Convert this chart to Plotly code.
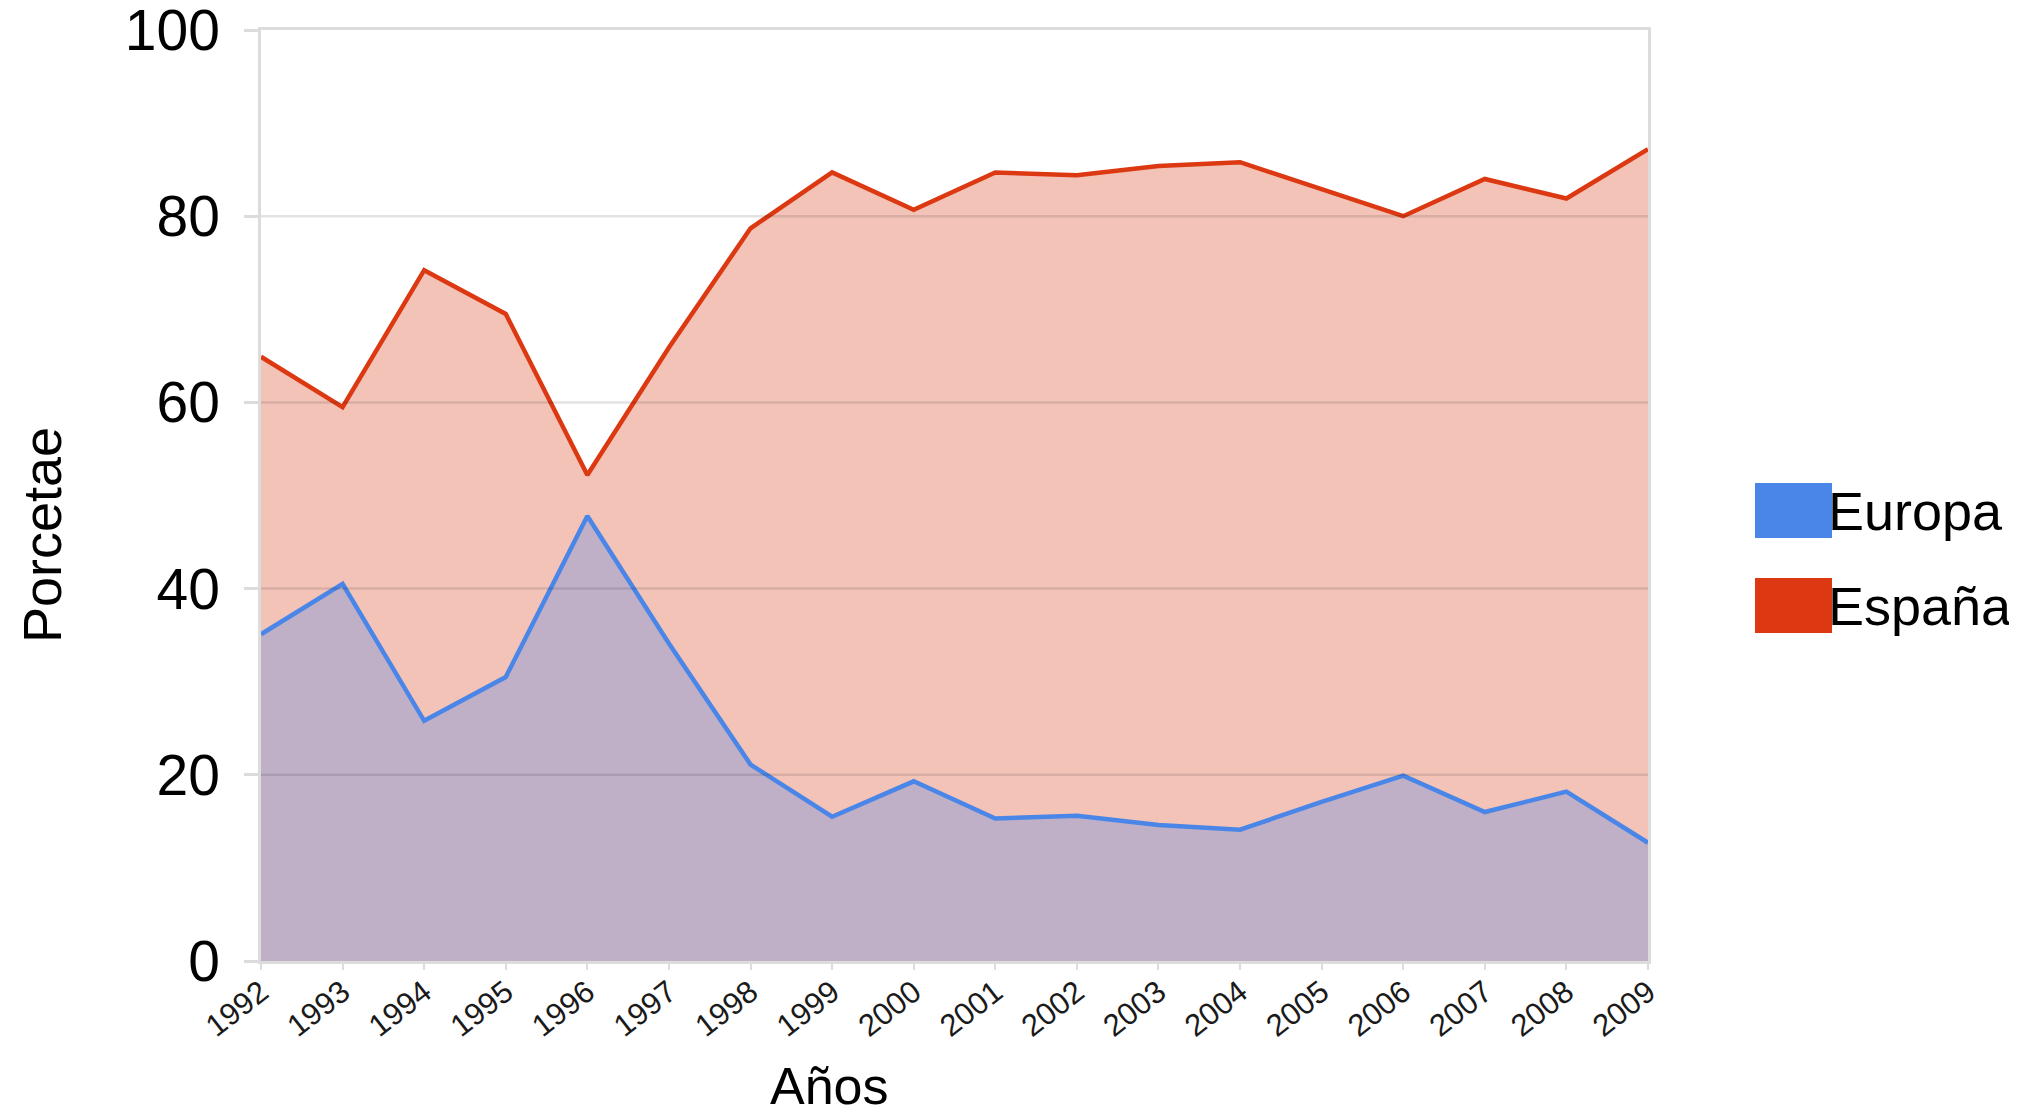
"""Stacked area chart: Europa / España share by year."""
import plotly.graph_objects as go

# ── Data ──────────────────────────────────────────────────────────────
YEARS = list(range(1992, 2010))
YEAR_LABELS = [str(y) for y in YEARS]
EUROPA = [35.1, 40.5, 25.8, 30.5, 47.8, 34.1, 21.1, 15.5, 19.3,
          15.3, 15.6, 14.6, 14.1, 17.1, 19.9, 16.0, 18.2, 12.7]
ESPANA = [29.8, 19.0, 48.4, 39.0, 4.4, 31.8, 57.6, 69.2, 61.4,
          69.4, 68.8, 70.8, 71.7, 65.8, 60.1, 68.0, 63.7, 74.5]
Y_TICKS = [0, 20, 40, 60, 80, 100]

# ── Style ─────────────────────────────────────────────────────────────
COLORS = {
    "europa_line": "#4a86e8",
    "europa_fill": "#bfb0c8",
    "espana_line": "#dc3912",
    "espana_fill": "#f3c3b8",
    "grid": "rgba(0,0,0,0.11)",
    "frame": "#dcdcdc",
}
FONT = "Arial, Liberation Sans, sans-serif"

# page body has an 8px margin: figure is shrunk so the page is 2017x1120
OFF = 8
W, H = 2017 - OFF, 1120 - OFF
# plot area in page pixels
PLOT_L, PLOT_R, PLOT_T, PLOT_B = 261, 1648, 30, 961
M = dict(l=PLOT_L - OFF, r=2017 - PLOT_R, t=PLOT_T - OFF, b=1120 - PLOT_B)
PW, PH = PLOT_R - PLOT_L, PLOT_B - PLOT_T


def px_x(x):
    return (x - PLOT_L) / PW


def px_y(y):
    return (PLOT_B - y) / PH


fig = go.Figure()
fig.add_trace(go.Scatter(
    x=YEARS, y=EUROPA, name="Europa", mode="lines", stackgroup="one",
    line=dict(color=COLORS["europa_line"], width=4.5),
    fillcolor=COLORS["europa_fill"],
))
fig.add_trace(go.Scatter(
    x=YEARS, y=ESPANA, name="España", mode="lines", stackgroup="one",
    line=dict(color=COLORS["espana_line"], width=4.5),
    fillcolor=COLORS["espana_fill"],
))

# gridlines drawn over the fills, as in the original
for v in Y_TICKS[1:-1]:
    fig.add_shape(type="line", xref="paper", x0=0, x1=1, yref="y", y0=v, y1=v,
                  line=dict(color=COLORS["grid"], width=2.5), layer="above")

# legend drawn by hand: big solid swatches
legend_items = [("Europa", COLORS["europa_line"], 483),
                ("España", COLORS["espana_line"], 578)]
for name, color, top in legend_items:
    fig.add_shape(type="rect", xref="paper", yref="paper",
                  x0=px_x(1755), x1=px_x(1832), y0=px_y(top), y1=px_y(top + 55),
                  fillcolor=color, line=dict(width=0))
    fig.add_annotation(text=name, xref="paper", yref="paper",
                       x=px_x(1826), y=px_y(top + 28), xanchor="left", yanchor="middle",
                       showarrow=False, font=dict(size=54, color="#000000", family=FONT))

fig.add_annotation(text="Porcetae", xref="paper", yref="paper",
                   x=px_x(42), y=px_y(535), textangle=-90, showarrow=False,
                   xanchor="center", yanchor="middle",
                   font=dict(size=54, color="#000000", family=FONT))
fig.add_annotation(text="Años", xref="paper", yref="paper",
                   x=px_x(829), y=px_y(1086), showarrow=False,
                   xanchor="center", yanchor="middle",
                   font=dict(size=52, color="#000000", family=FONT))

fig.update_layout(
    width=W, height=H,
    margin=M,
    paper_bgcolor="white",
    plot_bgcolor="white",
    showlegend=False,
    font=dict(family=FONT, color="#000000"),
    xaxis=dict(
        range=[YEARS[0], YEARS[-1]],
        tickvals=YEARS, ticktext=YEAR_LABELS,
        tickangle=-38,
        tickfont=dict(size=31, color="#1a1a1a"),
        showgrid=False, zeroline=False,
        ticks="outside", ticklen=6, tickcolor=COLORS["frame"], tickwidth=2,
        ticklabelstandoff=-8,
        showline=True, linecolor=COLORS["frame"], linewidth=2.5, mirror=True,
        ticklabeloverflow="allow", automargin=False,
        layer="above traces",
    ),
    yaxis=dict(
        range=[0, 100],
        tickvals=Y_TICKS,
        tickfont=dict(size=57, color="#000000"),
        showgrid=False, zeroline=False,
        ticks="outside", ticklen=14, tickcolor=COLORS["frame"], tickwidth=2.5,
        ticklabelstandoff=13,
        showline=True, linecolor=COLORS["frame"], linewidth=2.5, mirror=True,
        ticklabeloverflow="allow", automargin=False,
        layer="above traces",
    ),
)

fig.write_html("out.html")
